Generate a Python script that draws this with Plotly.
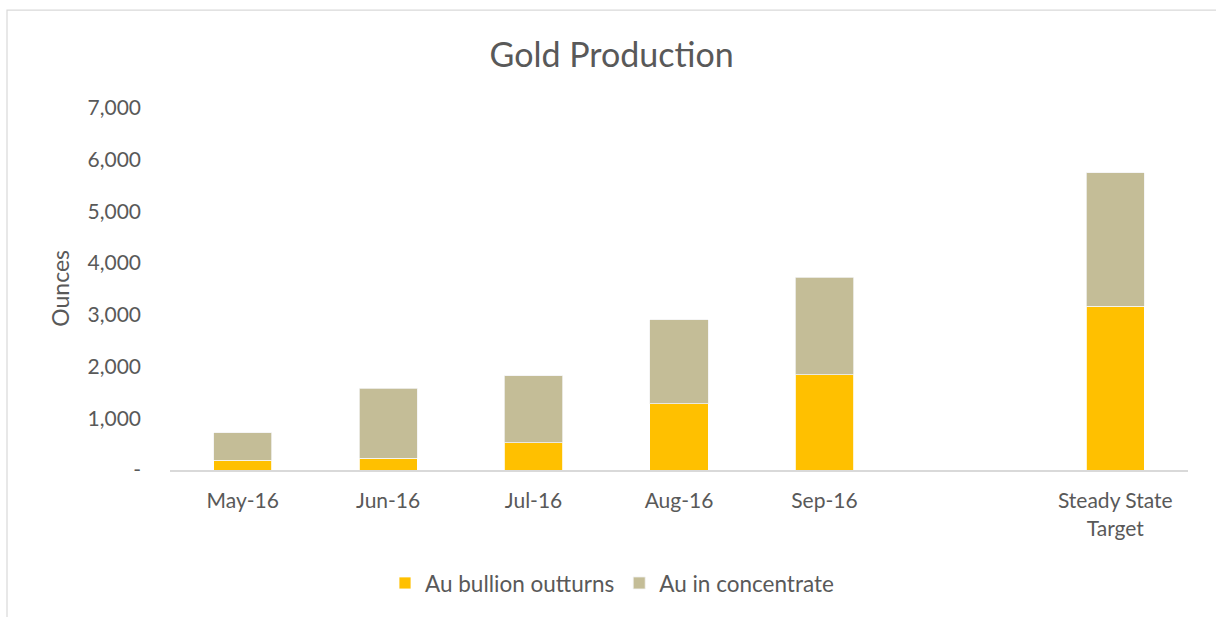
import plotly.graph_objects as go

categories = ["May-16", "Jun-16", "Jul-16", "Aug-16", "Sep-16", " ", "Steady State<br>Target"]
bullion = [190, 230, 525, 1280, 1845, None, 3165]
concentrate = [530, 1350, 1295, 1625, 1880, None, 2580]
ytick_vals = [0, 1000, 2000, 3000, 4000, 5000, 6000, 7000]
ytick_text = ["-", "1,000", "2,000", "3,000", "4,000", "5,000", "6,000", "7,000"]

FONT = "Lato, 'Open Sans', sans-serif"
GRAY = "#595959"

W, H = 1216, 617
L, R, T, B = 170, 28, 108, 146.5
pw, ph = W - L - R, H - T - B

def px_x(x):
    return (x - L) / pw

def px_y(y):
    return (H - B - y) / ph

fig = go.Figure()
fig.add_trace(go.Bar(x=categories, y=bullion, name="Au bullion outturns",
                     marker=dict(color="#FFC000", line=dict(color="#FFFFFF", width=0.8))))
fig.add_trace(go.Bar(x=categories, y=concentrate, name="Au in concentrate",
                     marker=dict(color="#C4BD97", line=dict(color="#F2F2F2", width=0.8))))

fig.update_layout(
    width=W, height=H,
    margin=dict(l=L, r=R, t=T, b=B),
    barmode="stack", bargap=0.6,
    plot_bgcolor="white", paper_bgcolor="white",
    font=dict(family=FONT, color=GRAY, size=21),
    title=dict(text="Gold Production", x=0.503, xref="container", xanchor="center",
               y=1 - 55 / H, yref="container", yanchor="middle",
               font=dict(size=34, color=GRAY, family=FONT)),
    showlegend=True,
    legend=dict(orientation="h", x=px_x(612), xanchor="center", y=px_y(584), yanchor="middle",
                font=dict(size=22.5, color=GRAY), traceorder="normal"),
    xaxis=dict(categoryorder="array", categoryarray=categories, showgrid=False,
               showline=True, linecolor="#D9D9D9", linewidth=2, ticks="",
               tickfont=dict(size=21, color=GRAY), ticklabelstandoff=11, zeroline=False),
    yaxis=dict(range=[0, 7000], tickvals=ytick_vals, ticktext=ytick_text,
               showgrid=False, showline=False, zeroline=False, ticks="",
               tickfont=dict(size=21, color=GRAY), ticklabelstandoff=28),
    annotations=[dict(text="Ounces", textangle=-90, x=px_x(60), y=px_y(289),
                      xref="paper", yref="paper", showarrow=False,
                      font=dict(size=23, color=GRAY), xanchor="center", yanchor="middle")],
    shapes=[dict(type="rect", xref="paper", yref="paper",
                 x0=px_x(7), x1=px_x(1230), y0=px_y(10), y1=px_y(640),
                 line=dict(color="#D9D9D9", width=1.2), layer="below")],
)

fig.write_html("out.html")
